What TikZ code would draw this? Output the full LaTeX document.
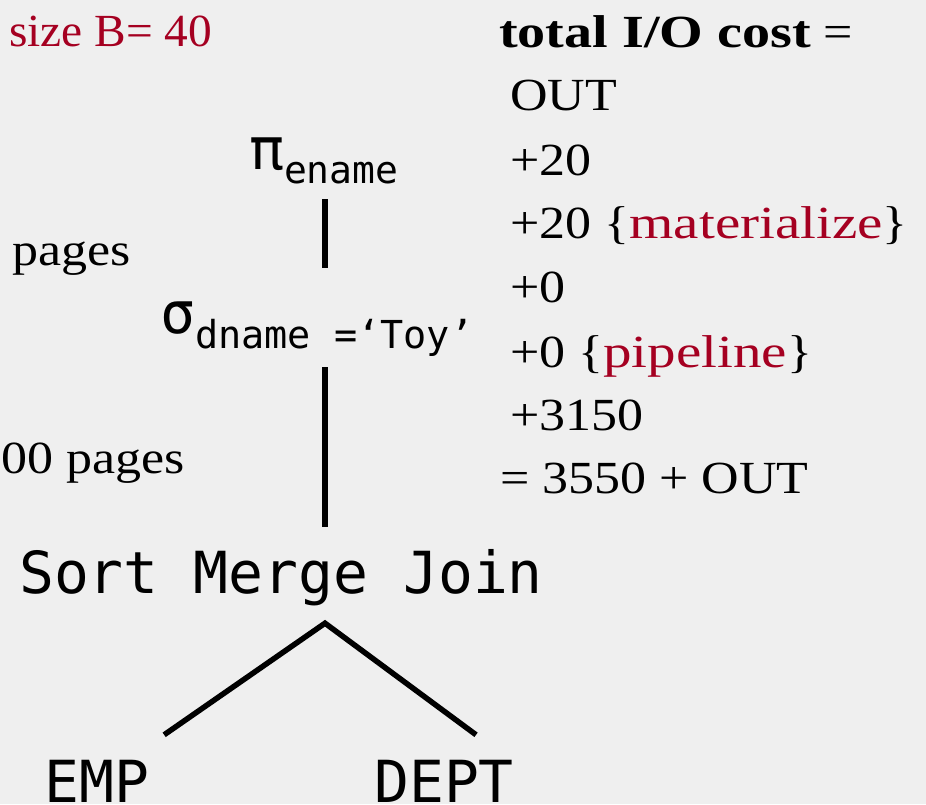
\documentclass[tikz,border=0pt]{standalone}
\usepackage{fontspec}
\setmainfont[FakeStretch=1.13,BoldFeatures={FakeStretch=1.22}]{Liberation Serif}
\newfontfamily\notefont[FakeStretch=1.03]{Liberation Serif}
\newfontfamily\wordfont[FakeStretch=1.24]{Liberation Serif}
\newfontfamily\mono{DejaVu Sans Mono}
\definecolor{paper}{HTML}{EFEFEF}
\definecolor{accent}{HTML}{A50021}
\newcommand{\hl}[1]{\textcolor{accent}{\wordfont #1}}
\begin{document}
\begin{tikzpicture}[x=1pt,y=-1pt,
  txt/.style={inner sep=0pt, anchor=base west, font=\fontsize{46}{50}\selectfont},
  op/.style={inner sep=0pt, font=\mono\fontsize{58}{60}\selectfont},
  edge/.style={line width=5.5pt, line cap=butt, line join=miter}]
\fill[paper] (0,0) rectangle (926,804);
\useasboundingbox (0,0) rectangle (926,804);

% vertical spine of the plan tree
\coordinate (spine) at (325,0);

% left margin notes
\node[txt, text=accent, font=\notefont\fontsize{46}{50}\selectfont] (bsize) at (9,46) {size B= 40};
\node[txt] (pg1) at (12,265) {pages};
\node[txt] (pg2) at (1,473) {00 pages};

% plan operators
\node[op, anchor=base west, text height=31pt, text depth=14pt] (pi) at (249,169)
  {π\raisebox{-14pt}{\fontsize{38}{40}\selectfont ename}};
\node[op, anchor=base west, text height=28pt, text depth=15pt] (sel) at (160,333)
  {σ\raisebox{-15pt}{\fontsize{38.5}{40}\selectfont dname =‘Toy’}};
\node[op, anchor=base, text height=41pt, text depth=14pt] (join) at (281,593) {Sort Merge Join};
\node[op, anchor=base west, text height=41pt, text depth=0pt] (emp) at (44,802) {EMP};
\node[op, anchor=base west, text height=41pt, text depth=0pt] (dept) at (374,802) {DEPT};

% tree edges
\draw[edge] ([yshift=-16pt]pi.south -| spine) -- ([yshift=37pt]sel.north -| spine);
\draw[edge] ([yshift=-19pt]sel.south -| spine) -- ([yshift=25pt]join.north -| spine);
\draw[edge] ([shift={(15pt,26pt)}]emp.north east)
  -- ([yshift=-16pt]join.south -| spine)
  -- ([shift={(32pt,26pt)}]dept.north);

% cost breakdown
\node[txt] (tot) at (499,47) {\textbf{total I/O cost} =};
\node[txt] (c1) at (510,110) {OUT};
\node[txt] (c2) at (510,175) {+20};
\node[txt] (c3) at (510,238) {+20 \{\hl{materialize}\}};
\node[txt] (c4) at (510,302) {+0};
\node[txt] (c5) at (510,367) {+0 \{\hl{pipeline}\}};
\node[txt] (c6) at (510,430) {+3150};
\node[txt] (c7) at (500,493) {= 3550 + OUT};
\end{tikzpicture}
\end{document}
